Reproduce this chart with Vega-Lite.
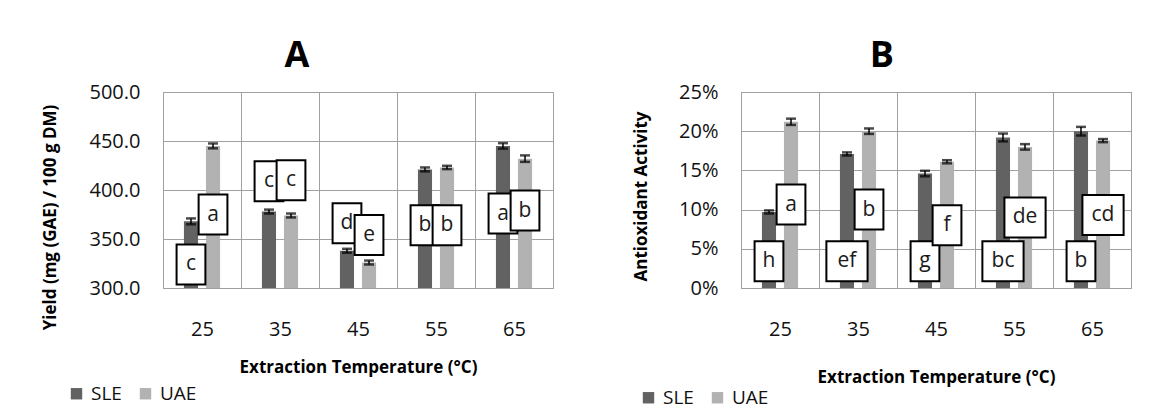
{
  "$schema": "https://vega.github.io/schema/vega-lite/v6.json",
  "background": "white",
  "padding": {"left": 40, "top": 37, "right": 5, "bottom": 5},
  "spacing": 188,
  "bounds": "flush",
  "config": {
    "font": "Open Sans",
    "view": {"stroke": "#a0a0a0", "strokeWidth": 1},
    "axis": {
      "gridColor": "#a0a0a0", "gridOpacity": 1, "gridWidth": 1,
      "domain": false, "ticks": false, "tickSize": 0, "labelOverlap": false,
      "labelColor": "#111111", "titleColor": "#000000",
      "labelFontSize": 20, "titleFontSize": 17, "titleFontWeight": "bold",
      "labelFont": "Open Sans", "titleFont": "Open Sans"
    },
    "title": {"fontSize": 36, "fontWeight": "bold", "color": "#000000", "frame": "bounds", "anchor": "middle", "offset": 7, "font": "Open Sans"},
    "legend": {
      "orient": "none", "direction": "horizontal", "title": null, "padding": 0,
      "symbolType": "square", "symbolSize": 130, "symbolStrokeWidth": 0,
      "labelFontSize": 19, "labelOffset": 5, "columnPadding": 14, "labelColor": "#111111", "labelFont": "Open Sans"
    }
  },
  "datasets": {
    "yield": [
      {"temp": "25", "method": "SLE", "value": 368, "err": 3, "label": "c", "ly": 324},
      {"temp": "25", "method": "UAE", "value": 445, "err": 2.5, "label": "a", "ly": 375},
      {"temp": "35", "method": "SLE", "value": 378, "err": 2, "label": "c", "ly": 409},
      {"temp": "35", "method": "UAE", "value": 374, "err": 2, "label": "c", "ly": 410},
      {"temp": "45", "method": "SLE", "value": 338, "err": 2, "label": "d", "ly": 366},
      {"temp": "45", "method": "UAE", "value": 326, "err": 2, "label": "e", "ly": 354},
      {"temp": "55", "method": "SLE", "value": 421, "err": 2, "label": "b", "ly": 364},
      {"temp": "55", "method": "UAE", "value": 423, "err": 1.7, "label": "b", "ly": 364},
      {"temp": "65", "method": "SLE", "value": 445, "err": 2.8, "label": "a", "ly": 376},
      {"temp": "65", "method": "UAE", "value": 432, "err": 3.3, "label": "b", "ly": 379}
    ],
    "aa": [
      {"temp": "25", "method": "SLE", "value": 0.097, "err": 0.002, "label": "h", "ly": 0.034},
      {"temp": "25", "method": "UAE", "value": 0.212, "err": 0.004, "label": "a", "ly": 0.1065},
      {"temp": "35", "method": "SLE", "value": 0.171, "err": 0.002, "label": "ef", "ly": 0.034},
      {"temp": "35", "method": "UAE", "value": 0.200, "err": 0.0035, "label": "b", "ly": 0.100},
      {"temp": "45", "method": "SLE", "value": 0.146, "err": 0.0035, "label": "g", "ly": 0.034},
      {"temp": "45", "method": "UAE", "value": 0.161, "err": 0.002, "label": "f", "ly": 0.080},
      {"temp": "55", "method": "SLE", "value": 0.192, "err": 0.005, "label": "bc", "ly": 0.034},
      {"temp": "55", "method": "UAE", "value": 0.180, "err": 0.0035, "label": "de", "ly": 0.090},
      {"temp": "65", "method": "SLE", "value": 0.200, "err": 0.0055, "label": "b", "ly": 0.034},
      {"temp": "65", "method": "UAE", "value": 0.188, "err": 0.002, "label": "cd", "ly": 0.093}
    ]
  },
  "hconcat": [
    {
      "width": 390, "height": 196,
      "title": {"text": "A"},
      "data": {"name": "yield"},
      "encoding": {
        "x": {"field": "temp", "type": "ordinal", "scale": {"paddingInner": 0, "paddingOuter": 0},
              "axis": {"tickBand": "extent", "grid": true, "labelAngle": 0, "labelPadding": 31, "title": "Extraction Temperature (°C)", "titlePadding": 20}},
        "xOffset": {"field": "method", "type": "nominal", "scale": {"paddingInner": 0.36, "paddingOuter": 0.95}}
      },
      "layer": [
        {
          "mark": {"type": "bar", "clip": true},
          "encoding": {
            "y": {"field": "value", "type": "quantitative", "title": "Yield (mg (GAE) / 100 g DM)", "scale": {"domain": [300, 500], "zero": false, "nice": false, "padding": 0},
                  "axis": {"values": [300, 350, 400, 450, 500], "tickCount": 10, "format": ".1f", "grid": true, "labelOverlap": false, "labelPadding": 23, "titlePadding": 30, "titleY": 125}},
            "color": {"field": "method", "type": "nominal", "scale": {"domain": ["SLE", "UAE"], "range": ["#626262", "#b2b2b2"]},
                      "legend": {"legendX": -96, "legendY": 292}}
          }
        },
        {
          "mark": {"type": "errorbar", "color": "black", "thickness": 1.5, "ticks": {"size": 10, "thickness": 2.5, "color": "black"}},
          "encoding": {
            "y": {"field": "value", "type": "quantitative", "title": "Yield (mg (GAE) / 100 g DM)"},
            "yError": {"field": "err"}
          }
        },
        {
          "transform": [{"filter": "length(datum.label) == 1"}],
          "mark": {"type": "point", "shape": "M-0.72,-1H0.72V1H-0.72Z", "size": 1600, "filled": false, "fill": "white", "fillOpacity": 1, "stroke": "black", "strokeWidth": 2, "opacity": 1},
          "encoding": {"y": {"field": "ly", "type": "quantitative", "title": "Yield (mg (GAE) / 100 g DM)"}}
        },
        {
          "mark": {"type": "text", "fontSize": 21, "color": "#1a1a1a", "baseline": "middle", "align": "center"},
          "encoding": {"y": {"field": "ly", "type": "quantitative", "title": "Yield (mg (GAE) / 100 g DM)"}, "text": {"field": "label"}}
        }
      ]
    },
    {
      "width": 390, "height": 196,
      "title": {"text": "B"},
      "data": {"name": "aa"},
      "encoding": {
        "x": {"field": "temp", "type": "ordinal", "scale": {"paddingInner": 0, "paddingOuter": 0},
              "axis": {"tickBand": "extent", "grid": true, "labelAngle": 0, "labelPadding": 31, "title": "Extraction Temperature (°C)", "titlePadding": 30}},
        "xOffset": {"field": "method", "type": "nominal", "scale": {"paddingInner": 0.36, "paddingOuter": 0.95}}
      },
      "layer": [
        {
          "mark": {"type": "bar", "clip": true},
          "encoding": {
            "y": {"field": "value", "type": "quantitative", "title": "Antioxidant Activity", "scale": {"domain": [0, 0.25], "zero": false, "nice": false, "padding": 0},
                  "axis": {"values": [0, 0.05, 0.1, 0.15, 0.2, 0.25], "tickCount": 10, "format": ".0%", "grid": true, "labelOverlap": false, "labelPadding": 23, "titlePadding": 28, "titleY": 104}},
            "color": {"field": "method", "type": "nominal", "scale": {"domain": ["SLE", "UAE"], "range": ["#626262", "#b2b2b2"]},
                      "legend": {"legendX": -102, "legendY": 296}}
          }
        },
        {
          "mark": {"type": "errorbar", "color": "black", "thickness": 1.5, "ticks": {"size": 10, "thickness": 2.5, "color": "black"}},
          "encoding": {
            "y": {"field": "value", "type": "quantitative", "title": "Antioxidant Activity"},
            "yError": {"field": "err"}
          }
        },
        {
          "transform": [{"filter": "length(datum.label) == 1"}],
          "mark": {"type": "point", "shape": "M-0.72,-1H0.72V1H-0.72Z", "size": 1600, "filled": false, "fill": "white", "fillOpacity": 1, "stroke": "black", "strokeWidth": 2, "opacity": 1},
          "encoding": {"y": {"field": "ly", "type": "quantitative", "title": "Antioxidant Activity"}}
        },
        {
          "transform": [{"filter": "length(datum.label) > 1"}],
          "mark": {"type": "point", "shape": "M-1.03,-1H1.03V1H-1.03Z", "size": 1600, "filled": false, "fill": "white", "fillOpacity": 1, "stroke": "black", "strokeWidth": 2, "opacity": 1},
          "encoding": {"y": {"field": "ly", "type": "quantitative", "title": "Antioxidant Activity"}}
        },
        {
          "mark": {"type": "text", "fontSize": 21, "color": "#1a1a1a", "baseline": "middle", "align": "center"},
          "encoding": {"y": {"field": "ly", "type": "quantitative", "title": "Antioxidant Activity"}, "text": {"field": "label"}}
        }
      ]
    }
  ],
  "resolve": {"scale": {"x": "independent", "y": "independent", "color": "independent"}, "legend": {"color": "independent"}}
}
